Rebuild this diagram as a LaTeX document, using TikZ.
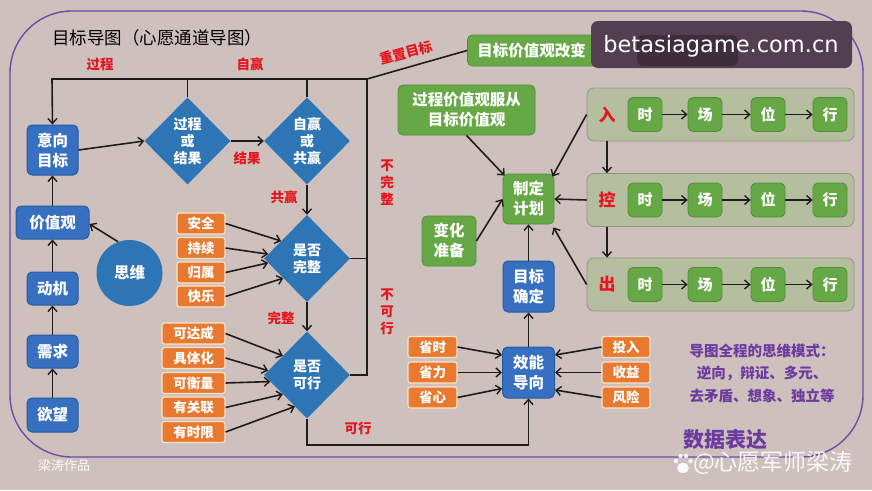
\documentclass[tikz,border=0pt]{standalone}
\usepackage{fontspec}
\setmainfont{Noto Sans CJK SC}
\newfontfamily\latinfont{DejaVu Sans}
\usetikzlibrary{shapes.geometric,arrows.meta,calc}
\definecolor{bgc}{RGB}{206,192,189}
\definecolor{framec}{RGB}{104,78,168}
\definecolor{boxblue}{RGB}{55,112,192}
\definecolor{blueborder}{RGB}{40,90,160}
\definecolor{dblue}{RGB}{46,117,182}
\definecolor{orangec}{RGB}{232,121,46}
\definecolor{orangeb}{RGB}{248,228,200}
\definecolor{greenc}{RGB}{103,168,70}
\definecolor{greenb}{RGB}{80,140,55}
\definecolor{groupc}{RGB}{182,190,160}
\definecolor{groupb}{RGB}{140,152,118}
\definecolor{redc}{RGB}{230,20,30}
\definecolor{purpc}{RGB}{108,58,160}
\definecolor{linec}{RGB}{30,28,28}
\definecolor{ovc}{RGB}{84,62,82}
\definecolor{ovd}{RGB}{62,46,60}
\begin{document}
\begin{tikzpicture}[x=1pt,y=-1pt,
  bluebox/.style={rectangle,rounded corners=5pt,fill=boxblue,draw=blueborder,line width=1pt,text=white,align=center,inner sep=0pt,font=\bfseries\fontsize{15.5}{20}\selectfont},
  dia/.style={diamond,fill=dblue,minimum width=86pt,minimum height=87pt,inner sep=0pt,text=white,align=center,font=\bfseries\fontsize{14}{17}\selectfont},
  obox/.style={rectangle,rounded corners=2.5pt,fill=orangec,draw=orangeb,line width=1.1pt,text=white,align=center,inner sep=0pt,minimum height=21pt,font=\bfseries\fontsize{13.5}{16}\selectfont},
  gbox/.style={rectangle,rounded corners=5pt,fill=greenc,draw=greenb,line width=0.8pt,text=white,align=center,inner sep=0pt,font=\bfseries\fontsize{15.5}{20}\selectfont},
  sbox/.style={gbox,minimum width=34pt,minimum height=34pt,font=\bfseries\fontsize{15}{18}\selectfont},
  grp/.style={rectangle,rounded corners=7pt,fill=groupc,draw=groupb,line width=0.8pt,minimum width=267pt,minimum height=53pt,inner sep=0pt},
  redlab/.style={text=redc,align=center,inner sep=0pt,font=\bfseries\fontsize{13.5}{17}\selectfont},
  grplab/.style={text=redc,inner sep=0pt,font=\bfseries\fontsize{17}{20}\selectfont},
  purplab/.style={text=purpc,align=center,inner sep=0pt,font=\bfseries\fontsize{14.5}{22.5}\selectfont},
  ln/.style={draw=linec,line width=1.6pt},
  arr/.style={draw=linec,line width=1.6pt,-{Straight Barb[length=5pt,width=9pt,line width=1.4pt]}}
]
\fill[bgc] (0,0) rectangle (872,490);
\useasboundingbox (0,0) rectangle (872,490);
% frame
\draw[framec,line width=1.4pt,rounded corners=62pt] (10,11) rectangle (863,457);
% title
\node[inner sep=0pt,anchor=west,font=\fontsize{17.5}{20}\selectfont] (title) at (52,38) {目标导图（心愿通道导图）};

% left column
\node[bluebox,minimum width=51pt,minimum height=50pt] (yx) at (52.5,150) {意向\\目标};
\node[bluebox,minimum width=73pt,minimum height=33pt] (jzg) at (52.5,222.5) {价值观};
\node[bluebox,minimum width=51pt,minimum height=33pt] (dj) at (52.5,288.5) {动机};
\node[bluebox,minimum width=51pt,minimum height=33pt] (xq) at (52.5,351.5) {需求};
\node[bluebox,minimum width=51pt,minimum height=34pt] (yw) at (52.5,415) {欲望};
\node[circle,fill=dblue,minimum size=66pt,inner sep=0pt,text=white,font=\bfseries\fontsize{15.5}{20}\selectfont] (sw) at (129.5,273) {思维};
\draw[arr] (yw.north) -- (xq.south);
\draw[arr] (xq.north) -- (dj.south);
\draw[arr] (dj.north) -- (jzg.south);
\draw[arr] (jzg.north) -- (yx.south);
\draw[arr] (sw.110) -- ([yshift=-1.5pt]jzg.east);

% diamonds
\node[dia] (d1) at (187.5,141) {过程\\或\\结果};
\node[dia] (d2) at (307,141) {自赢\\或\\共赢};
\node[dia] (d3) at (307,258.5) {是否\\完整};
\node[dia] (d4) at (307,375) {是否\\可行};
\draw[arr] (yx.east) -- (d1.west);
\draw[arr] (d1.east) -- (d2.west);
\draw[arr] (d2.south) -- (d3.north);
\draw[arr] (d3.south) -- (d4.north);

% loop lines
\coordinate (tl) at (52,79);
\coordinate (tr) at (367,79);
\draw[ln] (d1.north) -- (d1.north |- tl);
\draw[ln] (d2.north) -- (d2.north |- tl);
\draw[arr] (tr) -- (tl) -- (yx.north);
\draw[ln] (tr) -- (tr |- d4.east) -- (d4.east);
\draw[ln] (d3.east) -- (d3.east -| tr);

% red labels
\node[redlab] (l1) at (100,64) {过程};
\node[redlab] (l2) at (250,64) {自赢};
\node[redlab] (l3) at (247,158) {结果};
\node[redlab] (l4) at (284,197) {共赢};
\node[redlab] (l5) at (281,318) {完整};
\node[redlab] (l6) at (358,428) {可行};
\node[redlab] (l7) at (387,183) {不\\完\\整};
\node[redlab] (l8) at (387,312) {不\\可\\行};
\node[redlab,rotate=15] (l9) at (406,53) {重置目标};

% orange boxes for d3
\node[obox,minimum width=48pt] (o1) at (201,223.5) {安全};
\node[obox,minimum width=48pt] (o2) at (201,248) {持续};
\node[obox,minimum width=48pt] (o3) at (201,272.5) {归属};
\node[obox,minimum width=48pt] (o4) at (201,296.5) {快乐};
\draw[arr] (o1.east) -- ($(d3.west)!0.4!(d3.north)$);
\draw[arr] (o2.east) -- ($(d3.west)!0.1!(d3.north)$);
\draw[arr] (o3.east) -- ($(d3.west)!0.1!(d3.south)$);
\draw[arr] (o4.east) -- ($(d3.west)!0.45!(d3.south)$);

% orange boxes for d4
\node[obox,minimum width=63pt] (p1) at (193.5,333.5) {可达成};
\node[obox,minimum width=63pt] (p2) at (193.5,358) {具体化};
\node[obox,minimum width=63pt] (p3) at (193.5,383) {可衡量};
\node[obox,minimum width=63pt] (p4) at (193.5,407.5) {有关联};
\node[obox,minimum width=63pt] (p5) at (193.5,432) {有时限};
\draw[arr] (p1.east) -- ($(d4.west)!0.44!(d4.north)$);
\draw[arr] (p2.east) -- ($(d4.west)!0.1!(d4.north)$);
\draw[arr] (p3.east) -- ($(d4.west)!0.15!(d4.south)$);
\draw[arr] (p4.east) -- ($(d4.west)!0.44!(d4.south)$);
\draw[arr] (p5.east) -- ($(d4.west)!0.72!(d4.south)$);

% right side
\node[gbox,anchor=west,text width=155pt,align=left,inner xsep=10pt,minimum height=31pt,font=\bfseries\fontsize{15.5}{18}\selectfont] (gv) at (467,50.5) {目标价值观改变};
\draw[ln] (tr) -- (gv.west);
\node[gbox,minimum width=137pt,minimum height=50pt] (gz) at (466.5,110) {过程价值观服从\\目标价值观};
\node[gbox,minimum width=51pt,minimum height=50pt] (zd) at (528.5,199) {制定\\计划};
\node[gbox,minimum width=54pt,minimum height=50pt] (bh) at (449,241) {变化\\准备};
\node[bluebox,minimum width=51pt,minimum height=51pt] (mq) at (528.5,286.5) {目标\\确定};
\node[bluebox,minimum width=52pt,minimum height=51pt] (xn) at (528.5,372.5) {效能\\导向};
\draw[arr] (gz.south) -- ([xshift=2pt,yshift=-2pt]zd.north west);
\draw[arr] (bh.east) -- (zd.west);
\draw[arr] (mq.north) -- (zd.south);
\draw[arr] (xn.north) -- (mq.south);
\draw[arr] (d4.south) -- (d4.south |- 0,445) -- (xn.south |- 0,445) -- (xn.south);

% groups
\node[grp] (g1) at (720.5,114.5) {};
\node[grp] (g2) at (720.5,200) {};
\node[grp] (g3) at (720.5,284.5) {};
\foreach \g/\lab/\yy in {g1/入/114.5,g2/控/200,g3/出/284.5}{
  \node[grplab] (\g l) at (607,\yy) {\lab};
  \node[sbox] (\g a) at (645,\yy) {时};
  \node[sbox] (\g b) at (705,\yy) {场};
  \node[sbox] (\g c) at (768,\yy) {位};
  \node[sbox] (\g d) at (830,\yy) {行};
  \draw[arr] (\g a.east) -- (\g b.west);
  \draw[arr] (\g b.east) -- (\g c.west);
  \draw[arr] (\g c.east) -- (\g d.west);
}
\draw[arr] (g1.south -| g1l) -- (g2.north -| g1l);
\draw[arr] (g2.south -| g2l) -- (g3.north -| g2l);
\draw[arr] (g1.west) -- ([xshift=-2pt,yshift=-3pt]zd.north east);
\draw[arr] (g2.west) -- (zd.east);
\draw[arr] (g3.west) -- ([xshift=-1pt,yshift=-3pt]zd.south east);

% orange around xn
\node[obox,minimum width=49pt] (q1) at (432.5,347) {省时};
\node[obox,minimum width=49pt] (q2) at (432.5,372.5) {省力};
\node[obox,minimum width=49pt] (q3) at (432.5,397.5) {省心};
\node[obox,minimum width=48pt] (r1) at (626,347) {投入};
\node[obox,minimum width=48pt] (r2) at (626,372.5) {收益};
\node[obox,minimum width=48pt] (r3) at (626,397.5) {风险};
\draw[arr] (q1.east) -- ([yshift=17.5pt]xn.west);
\draw[arr] (q2.east) -- (xn.west);
\draw[arr] (q3.east) -- ([yshift=-16pt]xn.west);
\draw[arr] (r1.west) -- ([yshift=17.5pt]xn.east);
\draw[arr] (r2.west) -- (xn.east);
\draw[arr] (r3.west) -- ([yshift=-17.5pt]xn.east);

% purple text
\node[purplab] (pm) at (762,373) {导图全程的思维模式：\\逆向，辩证、多元、\\去矛盾、想象、独立等};
\node[text=purpc,inner sep=0pt,font=\bfseries\fontsize{21}{24}\selectfont] (sj) at (725,440) {数据表达};

% watermarks
\node[text=white!92!bgc,inner sep=0pt,font=\fontsize{13}{15}\selectfont] (zp) at (64,466) {梁涛作品};
\fill[white,opacity=0.9] (683,468) ellipse (6pt and 5pt);
\fill[white,opacity=0.9] (676,461) circle (2.2pt) (680.5,456) circle (2.2pt) (686,456) circle (2.2pt) (690.5,461) circle (2.2pt);
\node[text=white,opacity=0.9,inner sep=0pt,anchor=west,font=\fontsize{23}{26}\selectfont] (wm) at (693,463) {@心愿军师梁涛};
\fill[ovc,rounded corners=7pt] (591,21) rectangle (852,68);
\fill[ovd,rounded corners=6pt] (637,35) rectangle (738,66);
\node[text=white,inner sep=0pt,font=\latinfont\fontsize{22.5}{26}\selectfont] (bt) at (721,46) {betasiagame.com.cn};
\end{tikzpicture}
\end{document}
